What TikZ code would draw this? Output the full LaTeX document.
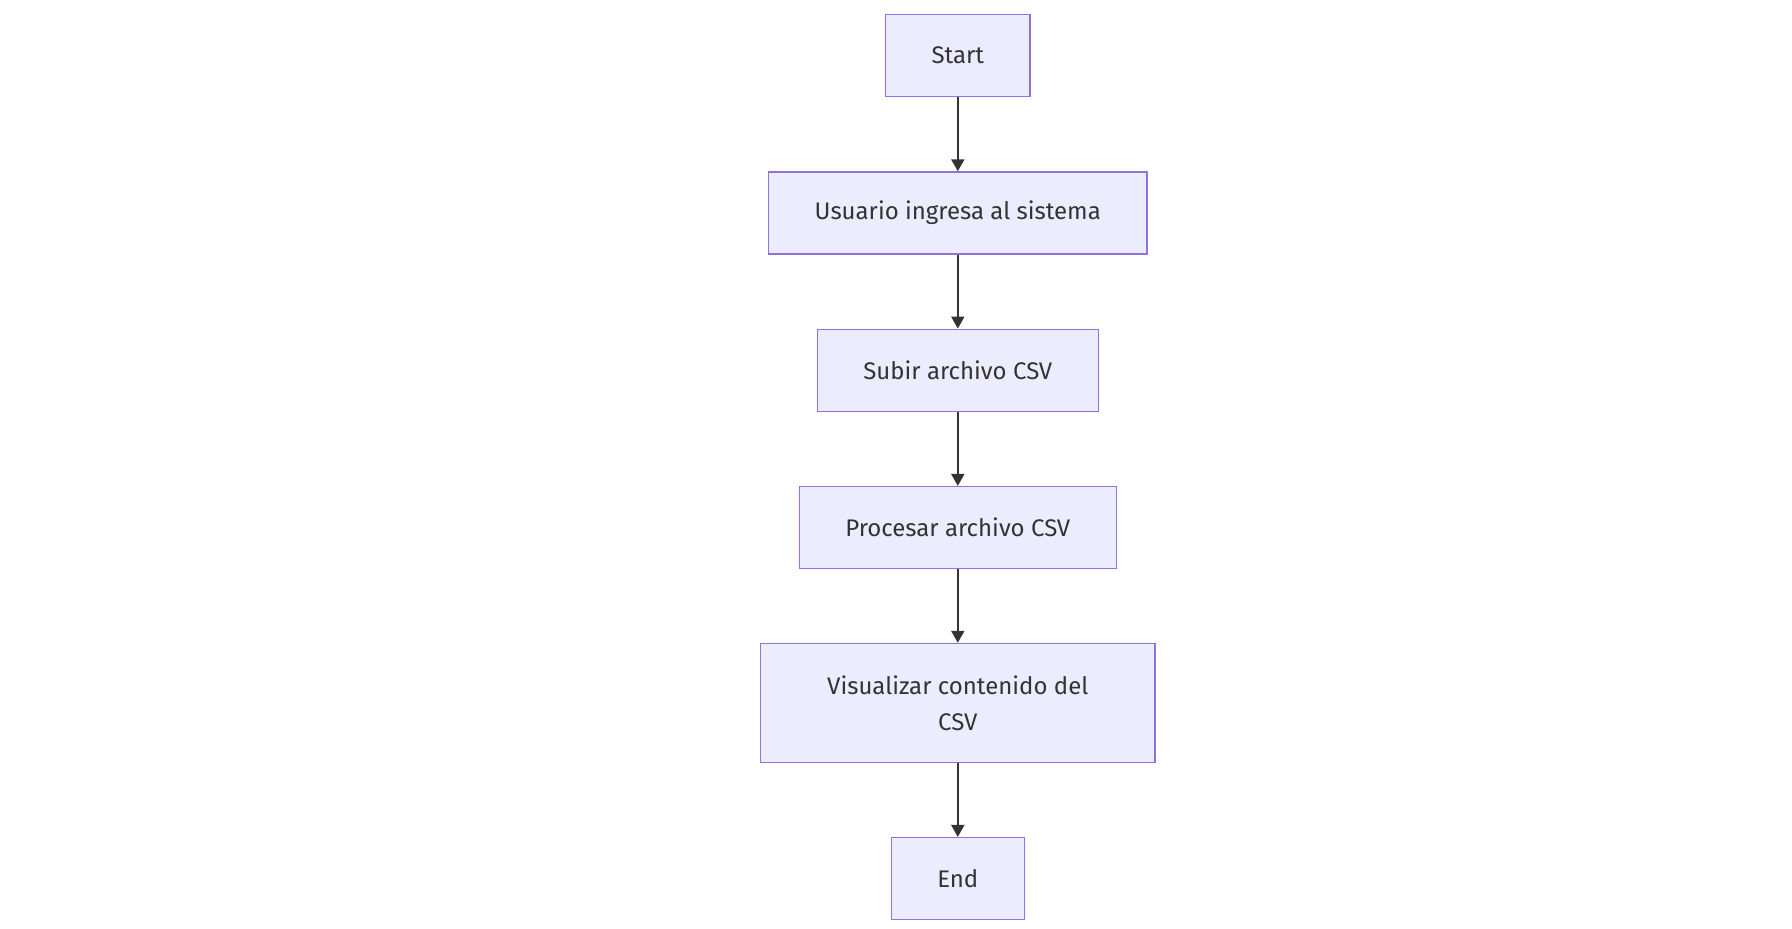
\documentclass[tikz,border=0pt]{standalone}
\usepackage{fontspec}
\setmainfont{Fira Sans}
\usetikzlibrary{positioning, arrows.meta}

\definecolor{boxfill}{HTML}{ECECFF}
\definecolor{boxline}{HTML}{9370DB}
\definecolor{linkline}{HTML}{333333}

\begin{document}
\begin{tikzpicture}[%
    >={Triangle[length=6pt, width=6.5pt]},
    node distance=78.65pt,
    on grid,
    flowbox/.style={draw=boxline, fill=boxfill, line width=0.7pt,
      minimum height=41pt, inner xsep=23pt, text=linkline,
      font=\fontsize{12}{18}\selectfont},
    thick
  ]

  \useasboundingbox (-478.9pt, 27.85pt) rectangle (417.1pt, -436.65pt);

  \node[flowbox] (start) {Start};
  \node[flowbox] (login) [below=of start] {Usuario ingresa al sistema};
  \node[flowbox] (upload) [below=of login] {Subir archivo CSV};
  \node[flowbox] (process) [below=of upload] {Procesar archivo CSV};
  \node[flowbox, minimum width=197pt, minimum height=59.5pt, align=center]
    (show) [below=87.7pt of process] {Visualizar contenido del\\CSV};
  \node[flowbox] (end) [below=87.8pt of show] {End};

  \path[->, linkline, line width=1pt]
              (start)     edge (login)
              (login)     edge (upload)
              (upload)    edge (process)
              (process)   edge (show)
              (show)      edge (end);
\end{tikzpicture}
\end{document}
